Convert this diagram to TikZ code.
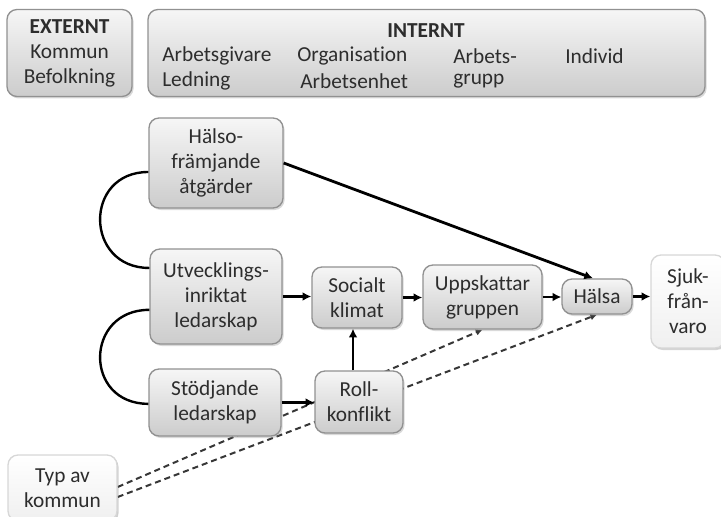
\documentclass[tikz,border=0pt]{standalone}
\usepackage{fontspec}
\setmainfont{Carlito}[Ligatures=NoCommon]
\usepackage{tikz}
\usetikzlibrary{arrows.meta,shadows,backgrounds}

\definecolor{boxline}{RGB}{145,145,145}
\definecolor{boxtop}{RGB}{246,246,246}
\definecolor{boxbot}{RGB}{204,204,204}
\definecolor{paleline}{RGB}{215,215,215}
\definecolor{inktext}{RGB}{45,45,45}
\definecolor{dashink}{RGB}{55,55,55}

\tikzset{
  txt/.style={font=\fontsize{16}{18.75}\selectfont, text=inktext},
  box/.style={txt, draw=boxline, line width=1pt, rounded corners=7.5pt,
    top color=boxtop, bottom color=boxbot, align=center, inner sep=2pt,
    drop shadow={opacity=0.3, shadow xshift=1.2pt, shadow yshift=-1.5pt}},
  palebox/.style={box, draw=paleline, top color=white, bottom color=white!94!black,
    drop shadow={opacity=0.12, shadow xshift=1pt, shadow yshift=-1pt}},
  link/.style={-{Latex[length=6.5pt,width=6.5pt]}, line width=2.1pt},
  tie/.style={line width=1.8pt},
  dashlink/.style={-{Latex[length=5pt,width=5pt]}, draw=dashink, line width=1.5pt, dash pattern=on 4.5pt off 3pt}
}

\begin{document}
\begin{tikzpicture}[x=0.75pt,y=0.75pt,yscale=-1,xscale=1]
\useasboundingbox (0,0) rectangle (721,517);

%Shape: Rounded Rect [id:externt]
\node[box, minimum width=93.75pt, minimum height=65.25pt] (ext) at (69.5,53) {\textbf{EXTERNT}\\Kommun\\Befolkning};
%Shape: Rounded Rect [id:internt]
\node[box, minimum width=417.75pt, minimum height=65.25pt] (int) at (426.5,53) {};

% Text Node
\node[txt, font=\fontsize{16}{18.75}\selectfont\bfseries] (inttitle) at (426,31) {INTERNT};
% Text Node
\node[txt, anchor=west, inner sep=0pt] (arbgiv) at (162,56) {Arbetsgivare};
% Text Node
\node[txt, anchor=west, inner sep=0pt] (ledn) at (162,81) {Ledning};
% Text Node
\node[txt, anchor=west, inner sep=0pt] (organ) at (297,56) {Organisation};
% Text Node
\node[txt, anchor=west, inner sep=0pt] (arbenh) at (300,81) {Arbetsenhet};
% Text Node
\node[txt, anchor=west, inner sep=0pt] (arbets) at (453,56) {Arbets-};
% Text Node
\node[txt, anchor=west, inner sep=0pt] (grupp) at (453,81) {grupp};
% Text Node
\node[txt, anchor=west, inner sep=0pt] (indiv) at (565,56) {Individ};

%Shape: Rounded Rect [id:halso]
\node[box, minimum width=100.5pt, minimum height=67.5pt] (hal) at (216,163) {Hälso-\\främjande\\åtgärder};
%Shape: Rounded Rect [id:utveckling]
\node[box, minimum width=99pt, minimum height=71.25pt] (utv) at (216,296.5) {Utvecklings-\\inriktat\\ledarskap};
%Shape: Rounded Rect [id:stodjande]
\node[box, minimum width=99pt, minimum height=50.25pt] (sto) at (215,402.5) {Stödjande\\ledarskap};
%Shape: Rounded Rect [id:socialt]
\node[box, minimum width=67.5pt, minimum height=45.75pt] (soc) at (357,297.5) {Socialt\\klimat};
%Shape: Rounded Rect [id:roll]
\node[box, minimum width=66pt, minimum height=46.5pt] (rol) at (359,402) {Roll-\\konflikt};
%Shape: Rounded Rect [id:uppskattar]
\node[box, minimum width=89.25pt, minimum height=48pt] (upp) at (482.5,297) {Uppskattar\\gruppen};
%Shape: Rounded Rect [id:halsa]
\node[box, minimum width=52.5pt, minimum height=26.25pt] (hls) at (597,296.5) {Hälsa};
%Shape: Rounded Rect [id:sjuk]
\node[palebox, minimum width=55.5pt, minimum height=69.75pt] (sjk) at (688,301.5) {Sjuk-\\från-\\varo};
%Shape: Rounded Rect [id:typ]
\node[palebox, minimum width=81.75pt, minimum height=49.5pt] (typ) at (62.5,488) {Typ av\\kommun};

%Curve Lines
\draw[tie] ([yshift=6.75pt]hal.west) .. controls +(-65,0) and +(-65,0) .. ([yshift=-21.4pt]utv.west);
\draw[tie] ([yshift=10pt]utv.west) .. controls +(-65,0) and +(-65,0) .. ([yshift=1pt]sto.west);

%Straight Lines
\draw[link] (hal.east) -- ([xshift=-3pt]hls.north);
\draw[link] (utv.east) -- (utv.east -| soc.west);
\draw[link] (sto.east) -- (sto.east -| rol.west);
\draw[link] ([xshift=-4.5pt]rol.north) -- ([xshift=-4.5pt]rol.north |- soc.south);
\draw[link] (soc.east) -- (soc.east -| upp.west);
\draw[link] (upp.east) -- (upp.east -| hls.west);
\draw[link] (hls.east) -- (hls.east -| sjk.west);

%Dashed Lines
\begin{scope}[on background layer]
\draw[dashlink] ([yshift=-0.75pt]typ.east) -- (upp.south);
\draw[dashlink] ([yshift=6.75pt]typ.east) -- (hls.south);
\end{scope}

\end{tikzpicture}
\end{document}
